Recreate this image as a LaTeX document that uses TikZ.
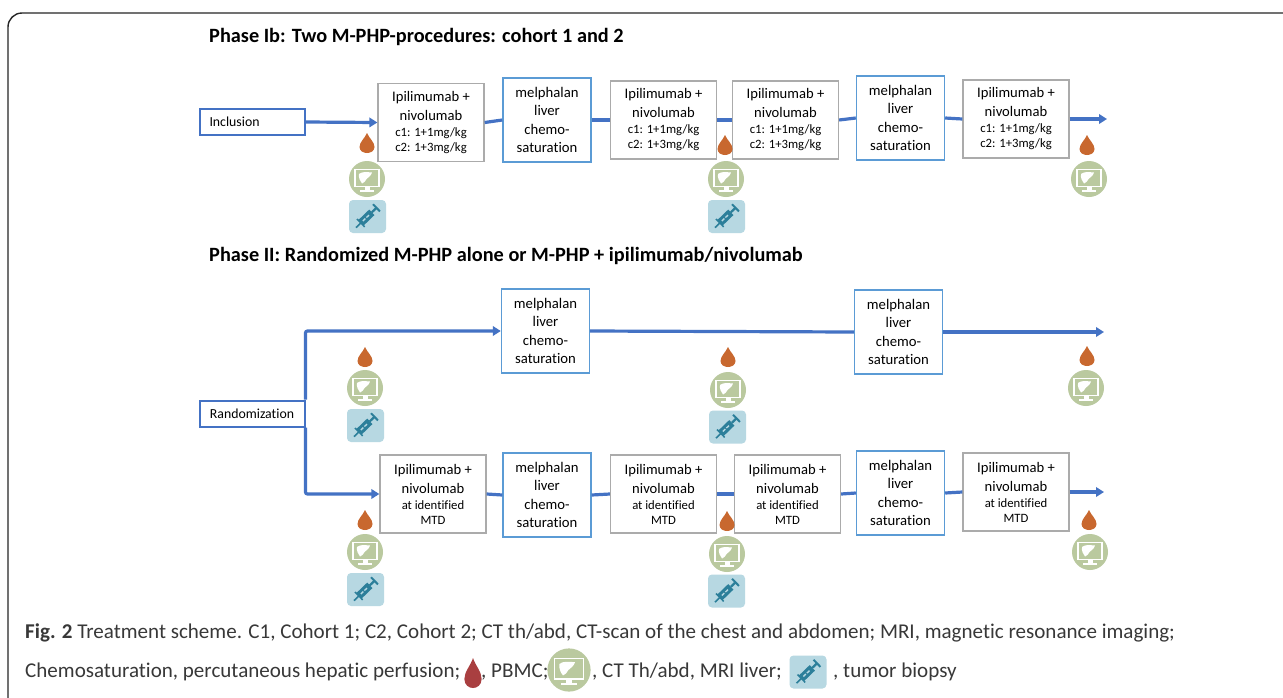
\documentclass[tikz,border=0pt]{standalone}
\usepackage{fontspec}
\setmainfont{Carlito}[Ligatures=NoCommon]
\usetikzlibrary{arrows.meta,calc}
\definecolor{flowblue}{HTML}{4472C4}
\definecolor{lightblue}{HTML}{5B9BD5}
\definecolor{boxgrey}{HTML}{ABABAB}
\definecolor{dropor}{HTML}{C8682F}
\definecolor{dropred}{HTML}{A93F40}
\definecolor{scangreen}{HTML}{BAC99F}
\definecolor{biopblue}{HTML}{B7D8E2}
\definecolor{syr}{HTML}{2C7F9A}
\newcommand{\subfont}{\fontsize{12.7}{15}\selectfont}
\newcommand{\gtext}[2]{Ipilimumab +\\nivolumab\\[-3pt]{\subfont #1}\\[-4pt]{\subfont #2}}
\newcommand{\mtext}{melphalan\\liver\\chemo-\\saturation}
\tikzset{
  gbox/.style={draw=boxgrey,line width=1.3pt,fill=white,align=center,inner sep=0pt,minimum width=106pt,minimum height=78pt,font=\fontsize{14.6}{19}\selectfont},
  mbox/.style={draw=lightblue,line width=1.4pt,fill=white,align=center,inner sep=0pt,minimum width=88pt,minimum height=84pt,font=\fontsize{14.7}{18.4}\selectfont},
  sbox/.style={draw=flowblue,line width=2pt,fill=white,inner sep=0pt,minimum width=105pt,minimum height=26pt,font=\fontsize{13.8}{15}\selectfont},
  flow/.style={draw=flowblue,line width=3.2pt},
  flowarr/.style={flow,-{Triangle[length=8pt,width=9.5pt]}},
  heading/.style={anchor=west,inner sep=0pt,font=\fontsize{20.3}{22}\selectfont\bfseries},
  captext/.style={anchor=west,inner sep=0pt,font=\fontsize{21.05}{24}\selectfont,text=black!78},
  pics/dropicon/.style={code={
    \fill[#1] (0,-10) .. controls (2,-5) and (7.5,-1) .. (7.5,4) .. controls (7.5,8) and (3.5,10) .. (0,10) .. controls (-3.5,10) and (-7.5,8) .. (-7.5,4) .. controls (-7.5,-1) and (-2,-5) .. (0,-10) -- cycle;
  }},
  pics/scanicon/.style={code={
    \fill[scangreen] (0,0) circle (18);
    \draw[white,line width=1.6pt] (-12,-9.5) rectangle (12,7.5);
    \fill[white] (-8,-5) .. controls (-5,-7.5) and (-1,-7) .. (5,-6.5) .. controls (4,-3) and (1,-1.5) .. (-0.5,0) .. controls (-1.5,2) and (-3,4) .. (-5,4.5) .. controls (-7,2) and (-8.5,-1) .. (-8,-5) -- cycle;
    \fill[white] (-2.5,8) rectangle (2.5,11.5);
    \fill[white] (-7,11) rectangle (7,12.8);
  }},
  pics/syringe/.style={code={
    \begin{scope}[rotate=44]
      \fill[syr] (-9,-3.8) rectangle (6,3.8);
      \fill[biopblue] (-6.5,-0.7) rectangle (-3,0.7);
      \fill[biopblue] (-1.5,-0.7) rectangle (2,0.7);
      \fill[syr] (-10,-5.5) rectangle (-8.5,5.5);
      \fill[syr] (-16,-0.8) rectangle (-9,0.8);
      \fill[syr] (6,-1.1) rectangle (12,1.1);
      \fill[syr] (11.5,-5) rectangle (13.5,5);
    \end{scope}
  }},
  pics/biopsy/.style={code={
    \fill[biopblue,rounded corners=4pt] (-18.5,-16.5) rectangle (18.5,16.5);
    \pic {syringe};
  }},
}
\begin{document}
\begin{tikzpicture}[x=1pt,y=-1pt]
\useasboundingbox (0,0) rectangle (1283,697);
\fill[white] (0,0) rectangle (1283,697);
\draw[black!85,line width=1.4pt,rounded corners=14pt] (8,698) -- (8,13) -- (1284,13);

\node[heading] (h1) at (209,36.5) {Phase Ib: Two M-PHP-procedures: cohort 1 and 2};
\node[heading] (h2) at (209,255.5) {Phase II: Randomized M-PHP alone or M-PHP + ipilimumab/nivolumab};

% Phase Ib
\node[sbox,align=left,text width=86pt] (inc) at (252.5,122) {Inclusion};
\node[gbox] (a1) at (431,122.5) {\gtext{c1: 1+1mg/kg}{c2: 1+3mg/kg}};
\node[mbox] (a2) at (547,120) {\mtext};
\node[gbox] (a3) at (663.5,120) {\gtext{c1: 1+1mg/kg}{c2: 1+3mg/kg}};
\node[gbox] (a4) at (785.5,120) {\gtext{c1: 1+1mg/kg}{c2: 1+3mg/kg}};
\node[mbox] (a5) at (900.5,118) {\mtext};
\node[gbox] (a6) at (1016,119) {\gtext{c1: 1+1mg/kg}{c2: 1+3mg/kg}};
\coordinate (aend) at (1107,119);
\draw[flowarr] (inc.east) -- (a1.west);
\draw[flow] (a1.east) -- (a2.west);
\draw[flow] (a2.east) -- (a3.west);
\draw[flow] (a3.east) -- (a4.west);
\draw[flow] (a4.east) -- (a5.west);
\draw[flow] (a5.east) -- (a6.west);
\draw[flowarr] (a6.east) -- (aend);

% Phase II
\node[sbox,align=center] (rnd) at (252,413.5) {Randomization};
\node[mbox] (b1) at (545.5,331) {\mtext};
\node[mbox] (b2) at (898.5,332) {\mtext};
\coordinate (bend) at (1104,332);
\draw[flowarr,rounded corners=2pt] (rnd.north east) |- (b1.west);
\draw[flow] (b1.east) -- (b2.west);
\draw[flowarr] (b2.east) -- (bend);

\node[gbox] (c1) at (433,494) {\gtext{at identified}{MTD}};
\node[mbox] (c2) at (547,495) {\mtext};
\node[gbox] (c3) at (663.5,494) {\gtext{at identified}{MTD}};
\node[gbox] (c4) at (787.5,494) {\gtext{at identified}{MTD}};
\node[mbox] (c5) at (900.5,493) {\mtext};
\node[gbox] (c6) at (1016,492) {\gtext{at identified}{MTD}};
\coordinate (cend) at (1104,492);
\draw[flowarr,rounded corners=2pt] (rnd.south east) |- (c1.west);
\draw[flow] (c1.east) -- (c2.west);
\draw[flow] (c2.east) -- (c3.west);
\draw[flow] (c3.east) -- (c4.west);
\draw[flow] (c4.east) -- (c5.west);
\draw[flow] (c5.east) -- (c6.west);
\draw[flowarr] (c6.east) -- (cend);

% Icons
\foreach \x/\y in {367/143,725/145,1087/145,365/357,728/357,1087/356,365/520,727/521,1089/520}
  \pic at (\x,\y) {dropicon=dropor};
\foreach \x/\y in {367/179,726/179,1089/179,365/388,728/390,1086/388,365/552,727/554,1090/552}
  \pic at (\x,\y) {scanicon};
\foreach \x/\y in {367.5/216.5,726.5/216.5,365.5/425.5,727.5/427,365.5/589.5,726.5/591}
  \pic at (\x,\y) {biopsy};

% Caption
\node[captext] (cap1) at (25,633) {\textbf{Fig. 2} Treatment scheme. C1, Cohort 1; C2, Cohort 2; CT th/abd, CT-scan of the chest and abdomen; MRI, magnetic resonance imaging;};
\node[captext] (cap2) at (25,672) {Chemosaturation, percutaneous hepatic perfusion;};
\pic[xscale=1.15,yscale=1.5] at (473,673) {dropicon=dropred};
\node[captext] (cap3) at (481,672) {, PBMC;};
\pic[scale=1.2] at (569,670) {scanicon};
\node[captext] (cap4) at (592,672) {, CT Th/abd, MRI liver;};
\begin{scope}[shift={(808,672)},scale=1.25]
  \pic {biopsy};
\end{scope}
\node[captext] (cap5) at (833,672) {, tumor biopsy};
\end{tikzpicture}
\end{document}
